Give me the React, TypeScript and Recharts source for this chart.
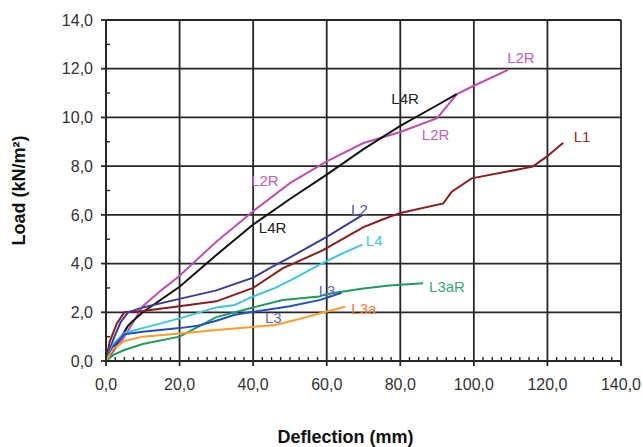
import { LineChart, Line, XAxis, YAxis, ReferenceLine, ReferenceDot } from "recharts";

// Load (kN/m²) vs deflection (mm)
const L2R = [
  { x: 0, y: 0 }, { x: 3, y: 0.6 }, { x: 5, y: 1.0 }, { x: 7, y: 1.5 }, { x: 10, y: 2.25 },
  { x: 15, y: 2.9 }, { x: 20, y: 3.5 }, { x: 30, y: 4.9 }, { x: 40, y: 6.15 }, { x: 50, y: 7.3 },
  { x: 60, y: 8.2 }, { x: 70, y: 8.95 }, { x: 80, y: 9.4 }, { x: 90, y: 9.97 }, { x: 95.4, y: 10.96 },
  { x: 100, y: 11.3 }, { x: 109.3, y: 11.95 },
];
const L4R = [
  { x: 0, y: 0 }, { x: 2, y: 0.5 }, { x: 4, y: 0.95 }, { x: 6, y: 1.45 }, { x: 7, y: 1.6 },
  { x: 10, y: 2.0 }, { x: 20, y: 3.05 }, { x: 30, y: 4.35 }, { x: 40, y: 5.6 }, { x: 50, y: 6.65 },
  { x: 60, y: 7.65 }, { x: 70, y: 8.7 }, { x: 80, y: 9.65 }, { x: 90, y: 10.5 }, { x: 95.3, y: 10.96 },
];
const L1 = [
  { x: 0, y: 0 }, { x: 1, y: 0.8 }, { x: 3, y: 1.55 }, { x: 5, y: 2.0 }, { x: 10, y: 2.05 },
  { x: 20, y: 2.25 }, { x: 30, y: 2.45 }, { x: 40, y: 3.0 }, { x: 48, y: 3.8 }, { x: 59, y: 4.55 },
  { x: 70, y: 5.5 }, { x: 75, y: 5.8 }, { x: 80, y: 6.08 }, { x: 91.7, y: 6.47 }, { x: 94, y: 6.95 },
  { x: 99.4, y: 7.5 }, { x: 116, y: 7.98 }, { x: 119.8, y: 8.39 }, { x: 124.3, y: 8.96 },
];
const L2 = [
  { x: 0, y: 0 }, { x: 2, y: 0.9 }, { x: 4, y: 1.6 }, { x: 6, y: 2.0 }, { x: 10, y: 2.2 },
  { x: 20, y: 2.55 }, { x: 30, y: 2.9 }, { x: 40, y: 3.42 }, { x: 45, y: 3.85 }, { x: 50, y: 4.25 },
  { x: 60, y: 5.1 }, { x: 69.8, y: 6.0 },
];
const L4 = [
  { x: 0, y: 0 }, { x: 2, y: 0.7 }, { x: 5, y: 1.15 }, { x: 10, y: 1.35 }, { x: 20, y: 1.75 },
  { x: 30, y: 2.2 }, { x: 35, y: 2.3 }, { x: 40, y: 2.65 }, { x: 46, y: 3.0 }, { x: 50, y: 3.3 },
  { x: 58, y: 3.95 }, { x: 64, y: 4.4 }, { x: 69.7, y: 4.78 },
];
const L3 = [
  { x: 0, y: 0 }, { x: 2, y: 0.6 }, { x: 5, y: 1.1 }, { x: 10, y: 1.2 }, { x: 20, y: 1.35 },
  { x: 25, y: 1.45 }, { x: 30, y: 1.65 }, { x: 35, y: 1.9 }, { x: 40, y: 2.02 }, { x: 50, y: 2.25 },
  { x: 58, y: 2.5 }, { x: 61, y: 2.65 }, { x: 64, y: 2.8 },
];
const L3aR = [
  { x: 0, y: 0 }, { x: 2, y: 0.25 }, { x: 5, y: 0.45 }, { x: 10, y: 0.7 }, { x: 20, y: 1.0 },
  { x: 25, y: 1.4 }, { x: 30, y: 1.8 }, { x: 40, y: 2.2 }, { x: 48, y: 2.5 }, { x: 58, y: 2.65 },
  { x: 60, y: 2.75 }, { x: 70, y: 2.98 }, { x: 77, y: 3.1 }, { x: 86.2, y: 3.19 },
];
const L3a = [
  { x: 0, y: 0 }, { x: 2, y: 0.5 }, { x: 5, y: 0.82 }, { x: 10, y: 1.0 }, { x: 20, y: 1.13 },
  { x: 30, y: 1.27 }, { x: 40, y: 1.4 }, { x: 46, y: 1.48 }, { x: 52, y: 1.7 }, { x: 58, y: 1.95 },
  { x: 65, y: 2.23 },
];

const series = [
  { name: "L2R", data: L2R, color: "#c04cb4" },
  { name: "L4R", data: L4R, color: "#111111" },
  { name: "L1", data: L1, color: "#8c1c1c" },
  { name: "L2", data: L2, color: "#3a3c9c" },
  { name: "L4", data: L4, color: "#3cc6e2" },
  { name: "L3aR", data: L3aR, color: "#1e9c5c" },
  { name: "L3", data: L3, color: "#2050c4" },
  { name: "L3a", data: L3a, color: "#ff9c2c" },
];

// in-plot series labels (data coordinates)
const labels = [
  { text: "L2R", x: 112.8, y: 12.44, color: "#c45cc4" },
  { text: "L4R", x: 81.3, y: 10.76, color: "#222222" },
  { text: "L2R", x: 89.6, y: 9.3, color: "#c45cc4" },
  { text: "L1", x: 129.4, y: 9.2, color: "#9c2c20" },
  { text: "L2R", x: 43.2, y: 7.4, color: "#c45cc4" },
  { text: "L4R", x: 45.3, y: 5.5, color: "#222222" },
  { text: "L2", x: 68.9, y: 6.22, color: "#5050b4" },
  { text: "L4", x: 72.9, y: 4.94, color: "#3cc6e2" },
  { text: "L3aR", x: 92.7, y: 3.06, color: "#3aa874" },
  { text: "L3", x: 60.1, y: 2.9, color: "#6464c8" },
  { text: "L3", x: 45.5, y: 1.77, color: "#6464c8" },
  { text: "L3a", x: 70.1, y: 2.16, color: "#f07c40" },
];

// major ticks carry labels and grid lines, minor ticks are short inner marks
const xMajor = [0, 20, 40, 60, 80, 100, 120, 140];
const yMajor = [0, 2, 4, 6, 8, 10, 12, 14];
const xAllTicks = [
  0, 2.5, 5, 7.5, 10, 12.5, 15, 17.5, 20, 22.5, 25, 27.5, 30, 32.5, 35, 37.5,
  40, 42.5, 45, 47.5, 50, 52.5, 55, 57.5, 60, 62.5, 65, 67.5, 70, 72.5, 75, 77.5,
  80, 82.5, 85, 87.5, 90, 92.5, 95, 97.5, 100, 102.5, 105, 107.5, 110, 112.5, 115, 117.5,
  120, 122.5, 125, 127.5, 130, 132.5, 135, 137.5, 140,
];
const yAllTicks = [0, 1, 2, 3, 4, 5, 6, 7, 8, 9, 10, 11, 12, 13, 14];

const FONT = "'Liberation Sans', Arial, sans-serif";
const GRID = "#262626";
const fmt = (v: number) => v.toFixed(1).replace(".", ",");

function XTick(props: any) {
  const { x, y, payload } = props;
  const v = payload.value;
  if (xMajor.includes(v)) {
    return (
      <g>
        <line x1={x} x2={x} y1={y} y2={y + 5} stroke={GRID} strokeWidth={1.8} />
        <text x={x} y={y + 18} dy="0.71em" textAnchor="middle" fontSize={16} fill="#333">
          {fmt(v)}
        </text>
      </g>
    );
  }
  return <line x1={x} x2={x} y1={y} y2={y - 4} stroke={GRID} strokeWidth={1.4} />;
}

function YTick(props: any) {
  const { x, y, payload } = props;
  const v = payload.value;
  if (yMajor.includes(v)) {
    return (
      <g>
        <line x1={x - 5} x2={x} y1={y} y2={y} stroke={GRID} strokeWidth={1.8} />
        <text x={x - 13} y={y} dy="0.36em" textAnchor="end" fontSize={16} fill="#333">
          {fmt(v)}
        </text>
      </g>
    );
  }
  return <line x1={x} x2={x + 4} y1={y} y2={y} stroke={GRID} strokeWidth={1.4} />;
}

export default function App() {
  return (
    <div style={{ position: "absolute", left: 0, top: 0, background: "#fff" }}>
      <LineChart width={643} height={447} margin={{ top: 20, right: 22, left: 0, bottom: 0 }} style={{ fontFamily: FONT }}>
        {xMajor.map((v) => (
          <ReferenceLine key={"gx" + v} x={v} stroke={GRID} strokeWidth={1.8} />
        ))}
        {yMajor.map((v) => (
          <ReferenceLine key={"gy" + v} y={v} stroke={GRID} strokeWidth={1.8} />
        ))}
        <XAxis
          type="number"
          dataKey="x"
          domain={[0, 140]}
          ticks={xAllTicks}
          interval={0}
          allowDataOverflow
          height={86}
          tickSize={0}
          tickMargin={0}
          tickLine={false}
          tick={<XTick />}
          axisLine={{ stroke: GRID, strokeWidth: 1.8 }}
          label={{
            content: (p: any) => (
              <text
                x={p.viewBox.x + p.viewBox.width / 2 - 18}
                y={p.viewBox.y + 82}
                textAnchor="middle"
                fontSize={18}
                fontWeight="bold"
                fill="#111"
              >
                Deflection (mm)
              </text>
            ),
          }}
        />
        <YAxis
          type="number"
          domain={[0, 14]}
          ticks={yAllTicks}
          interval={0}
          allowDataOverflow
          width={106}
          tickSize={0}
          tickMargin={0}
          tickLine={false}
          tick={<YTick />}
          axisLine={{ stroke: GRID, strokeWidth: 1.8 }}
          label={{
            content: (p: any) => {
              const cx = 19;
              const cy = p.viewBox.y + p.viewBox.height / 2;
              return (
                <text
                  x={cx}
                  y={cy}
                  transform={`rotate(-90 ${cx} ${cy})`}
                  textAnchor="middle"
                  dominantBaseline="central"
                  fontSize={18}
                  fontWeight="bold"
                  fill="#111"
                >
                  Load (kN/m²)
                </text>
              );
            },
          }}
        />
        {series.map((s) => (
          <Line
            key={s.name}
            data={s.data}
            dataKey="y"
            name={s.name}
            type="linear"
            stroke={s.color}
            strokeWidth={2}
            dot={false}
            activeDot={false}
            isAnimationActive={false}
          />
        ))}
        {labels.map((l, i) => (
          <ReferenceDot
            key={i}
            x={l.x}
            y={l.y}
            r={0}
            ifOverflow="visible"
            shape={(p: any) => (
              <text
                x={p.cx}
                y={p.cy}
                textAnchor="middle"
                dominantBaseline="central"
                fontSize={15}
                fill={l.color}
              >
                {l.text}
              </text>
            )}
          />
        ))}
      </LineChart>
    </div>
  );
}
